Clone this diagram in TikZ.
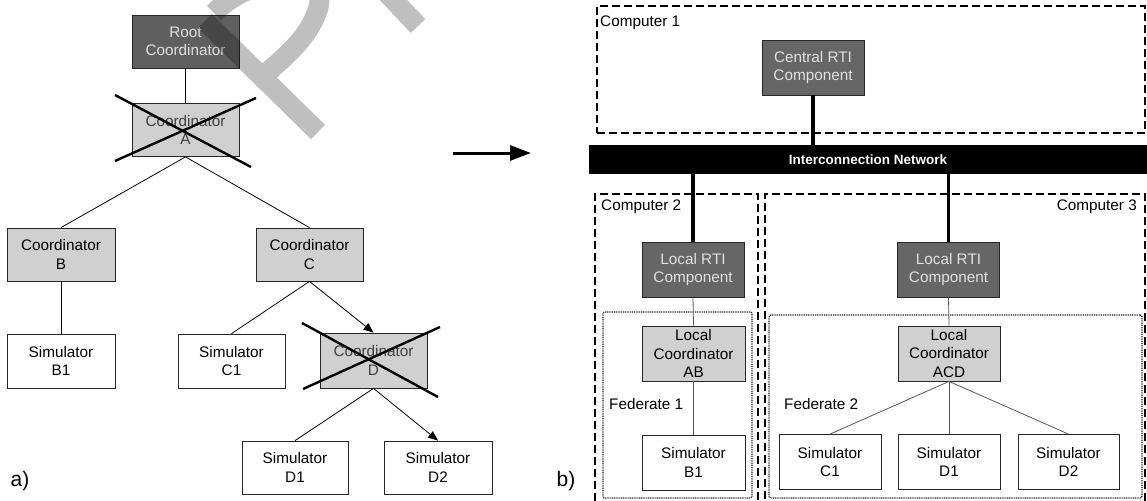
\documentclass[tikz,border=0pt]{standalone}
\usepackage{fontspec}
\setmainfont{Liberation Sans}
\usetikzlibrary{arrows.meta}
\definecolor{darkfill}{HTML}{5F5F5F}
\definecolor{rtifill}{HTML}{666666}
\definecolor{lightfill}{HTML}{D0D0D0}
\newcommand{\fs}{\fontsize{15.3}{18.3}\selectfont}
\begin{document}
\begin{tikzpicture}[x=1pt,y=-1pt,
  box/.style={draw=black!85, line width=0.8pt, inner sep=0pt, align=center, font=\fs, minimum width=107pt, minimum height=53pt},
  darkbox/.style={box, fill=darkfill, text=white!88!black},
  rtibox/.style={box, fill=rtifill, text=white!88!black, minimum width=102pt, minimum height=55pt},
  lightbox/.style={box, fill=lightfill},
  simbox/.style={box, fill=white},
  rsim/.style={simbox, minimum width=102pt, minimum height=55pt},
  thinline/.style={line width=0.8pt, draw=black},
  grayline/.style={line width=0.8pt, draw=black!65},
  arr/.style={thinline, -{Triangle[length=10pt,width=8pt]}},
  cross/.style={line width=2.4pt, draw=black},
  thickline/.style={line width=3.2pt, draw=black},
  compbox/.style={draw=black, line width=1.6pt, dash pattern=on 8pt off 4pt, inner sep=0pt},
  fedbox/.style={draw=black!85, line width=1.3pt, dash pattern=on 1pt off 0.8pt, rounded corners=2pt, inner sep=0pt},
  lbl/.style={font=\fs, anchor=west, inner sep=0pt},
  biglbl/.style={font=\fontsize{21}{24}\selectfont, inner sep=0pt},
  wmark/.style={line width=20pt, draw=black, opacity=0.25}
]
\useasboundingbox (0,0) rectangle (1147,500);
\clip (0,0) rectangle (1147,500);

% ---------------- left diagram (a) ----------------
\node[darkbox] (root) at (185.5,41.5) {Root\\Coordinator};
\node[lightbox, text=black!75] (A) at (185.5,130) {Coordinator\\A};
\node[lightbox, minimum width=108pt] (B) at (61,254.5) {Coordinator\\B};
\node[simbox, minimum width=108pt, minimum height=54pt] (B1) at (61,361) {Simulator\\B1};
\node[lightbox] (C) at (309.5,254.5) {Coordinator\\C};
\node[simbox, minimum height=54pt] (C1) at (231.5,361) {Simulator\\C1};
\node[lightbox, minimum height=55pt, text=black!75] (D) at (373.5,360.5) {Coordinator\\D};
\node[simbox, minimum width=106pt] (D1) at (295,467.5) {Simulator\\D1};
\node[simbox, minimum width=108pt] (D2) at (438,467.5) {Simulator\\D2};

\draw[thinline] (root.south) -- (A.north);
\draw[thinline] (A.south) -- (B.north);
\draw[thinline] (A.south) -- (C.north);
\draw[thinline] (B.south) -- (B1.north);
\draw[thinline] (C.south) -- (C1.north);
\draw[arr] (C.south) -- (D.north);
\draw[thinline] (D.south) -- (D1.north);
\draw[arr] (D.south) -- (D2.north);

\draw[cross] (115,95) -- (251,167);
\draw[cross] (115,161) -- (256,98);
\draw[cross] (302,323) -- (438,397);
\draw[cross] (303,389) -- (440,327);

\node[biglbl] (la) at (20,481) {a)};

% ---------------- middle arrow ----------------
\coordinate (arS) at (453,153);
\coordinate (arE) at (531,153);
\draw[line width=3pt, -{Triangle[length=21pt,width=15pt]}] (arS) -- (arE);

% ---------------- right diagram (b) ----------------
\node[compbox, minimum width=548pt, minimum height=127pt] (comp1) at (871,69.5) {};
\node[compbox, minimum width=163pt, minimum height=311pt] (comp2) at (676.5,349.5) {};
\node[compbox, minimum width=380pt, minimum height=311pt] (comp3) at (955,349.5) {};
\node[fedbox, minimum width=149pt, minimum height=186pt] (fed1) at (677.5,405) {};
\node[fedbox, minimum width=373pt, minimum height=183pt] (fed2) at (955.5,406.5) {};

\node[lbl] (c1l) at (600,23) {Computer 1};
\node[lbl] (c2l) at (601,207) {Computer 2};
\node[lbl, anchor=east] (c3l) at (1137,207) {Computer 3};
\node[lbl] (f1l) at (609,404) {Federate 1};
\node[lbl] (f2l) at (784,404) {Federate 2};

\node[rtibox] (central) at (813,67.5) {Central RTI\\Component};
\node[fill=black, minimum width=558pt, minimum height=29pt, inner sep=0pt, text=white,
      font=\bfseries\fontsize{13.5}{16}\selectfont] (bar) at (868,159.5) {Interconnection Network};

\node[rtibox] (lrti2) at (693,269.5) {Local RTI\\Component};
\node[rtibox] (lrti3) at (948.5,269.5) {Local RTI\\Component};
\node[lightbox, minimum width=103pt, minimum height=55pt] (lcab) at (693.5,353.5) {Local\\Coordinator\\AB};
\node[lightbox, minimum width=102pt, minimum height=55pt] (lcacd) at (949,353.5) {Local\\Coordinator\\ACD};
\node[rsim, minimum width=103pt] (sb1) at (693.5,462.5) {Simulator\\B1};
\node[rsim] (sc1) at (830,462) {Simulator\\C1};
\node[rsim] (sd1) at (949,462) {Simulator\\D1};
\node[rsim, minimum width=101pt] (sd2) at (1068.5,462) {Simulator\\D2};

\draw[thickline] (central.south) -- (central.south |- bar.north);
\draw[thickline] (bar.south -| lrti2.north) -- (lrti2.north);
\draw[thickline] (bar.south -| lrti3.north) -- (lrti3.north);

\draw[grayline] (lrti2.south) -- (lcab.north);
\draw[grayline] (lcab.south) -- (sb1.north);
\draw[grayline] (lrti3.south) -- (lcacd.north);
\draw[grayline] (lcacd.south) -- (sc1.north);
\draw[grayline] (lcacd.south) -- (sd1.north);
\draw[grayline] (lcacd.south) -- (sd2.north);

\node[biglbl] (lb) at (566,481) {b)};

% ---------------- watermark ----------------
\draw[wmark]
  (205,21) -- (318,132)
  (214,13) .. controls (250,-25) and (335,-35) .. (317,12)
           .. controls (307,38) and (290,52) .. (268,72);
\draw[wmark] (384,-10) -- (418,26);
\end{tikzpicture}
\end{document}
